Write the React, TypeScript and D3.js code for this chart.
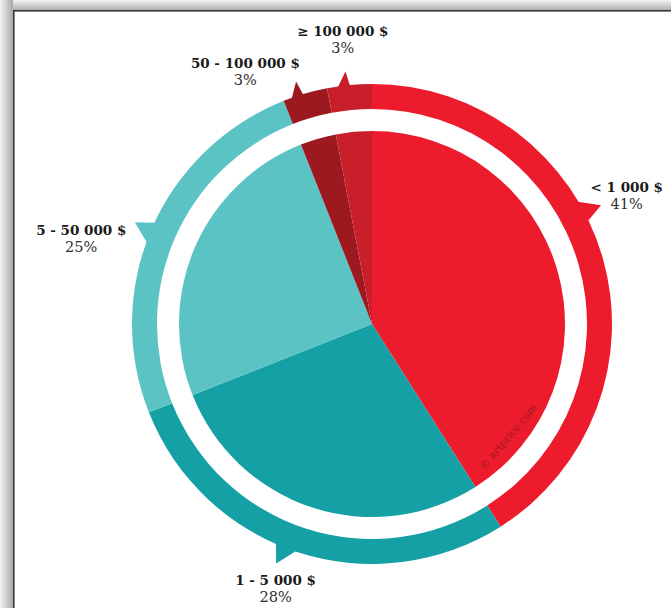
import React from "react";
import * as d3 from "d3";

const categories = ["< 1 000 $", "1 - 5 000 $", "5 - 50 000 $", "50 - 100 000 $", "≥ 100 000 $"];
const shares = [41, 28, 25, 3, 3];
const colors = ["#EC1C2D", "#15A0A6", "#5CC3C5", "#9C1A1F", "#C91F2B"];

// layout: pointer angle shift (deg) and label offset from pointer tip
const pointerShift = [-12, 3, -1, -2, -1.4];
const labelOffset: [number, number][] = [
  [30, -11],
  [-5, 23],
  [-55, 8],
  [-47, -14],
  [1, -35],
];

const W = 671;
const H = 608;
const cx = 372;
const cy = 324;
const rPie = 193;
const rIn = 215;
const rOut = 240;

export default function App() {
  const pie = d3
    .pie<number>()
    .sort(null)
    .value((d) => d)(shares);
  const pieArc = d3.arc<d3.PieArcDatum<number>>().innerRadius(0).outerRadius(rPie);
  const ringArc = d3.arc<d3.PieArcDatum<number>>().innerRadius(rIn).outerRadius(rOut);
  const rad = (deg: number) => (deg * Math.PI) / 180;
  const pt = (a: number, r: number) => [Math.sin(a) * r, -Math.cos(a) * r];

  return (
    <div style={{ position: "absolute", left: 0, top: 0, width: W, height: H }}>
      <svg width={W} height={H} style={{ display: "block" }}>
        <defs>
          <linearGradient id="gTop" x1="0" y1="0" x2="0" y2="1">
            <stop offset="0" stopColor="#f2f2f2" />
            <stop offset="1" stopColor="#a9a9a9" />
          </linearGradient>
          <linearGradient id="gLeft" x1="0" y1="0" x2="1" y2="0">
            <stop offset="0" stopColor="#f2f2f2" />
            <stop offset="1" stopColor="#a9a9a9" />
          </linearGradient>
        </defs>
        <rect x={0} y={0} width={W} height={H} fill="#ffffff" />
        <rect x={0} y={0} width={W} height={11} fill="url(#gTop)" />
        <rect x={0} y={0} width={13} height={H} fill="url(#gLeft)" />
        <rect x={13} y={10} width={W - 13} height={1.6} fill="#3a3a3a" />
        <rect x={13} y={10} width={1.6} height={H - 10} fill="#3a3a3a" />

        <g transform={`translate(${cx},${cy})`}>
          {pie.map((d, i) => (
            <path key={"p" + i} d={pieArc(d) || ""} fill={colors[i]} />
          ))}
          {pie.map((d, i) => (
            <path key={"r" + i} d={ringArc(d) || ""} fill={colors[i]} />
          ))}
          {pie.map((d, i) => {
            const mid = (d.startAngle + d.endAngle) / 2 + rad(pointerShift[i]);
            const half = rad(i >= 3 ? 1.6 : 2.8);
            const b1 = pt(mid - half, rOut - 2);
            const b2 = pt(mid + half, rOut - 2);
            const tip = pt(mid + rad(0.8), rOut + (i >= 3 ? 14 : 18));
            return (
              <path
                key={"t" + i}
                d={`M${b1[0]},${b1[1]}L${tip[0]},${tip[1]}L${b2[0]},${b2[1]}Z`}
                fill={colors[i]}
              />
            );
          })}
          <text
            transform={`translate(${511 - cx},${439 - cy}) rotate(-50)`}
            fontFamily="'DejaVu Serif', serif"
            fontSize={10.5}
            fill="#8c161c"
            textAnchor="middle"
            opacity={0.75}
          >
            © artprice.com
          </text>
        </g>

        {pie.map((d, i) => {
          const mid = (d.startAngle + d.endAngle) / 2 + rad(pointerShift[i]);
          const tip = pt(mid, rOut + 15);
          const x = cx + tip[0] + labelOffset[i][0];
          const y = cy + tip[1] + labelOffset[i][1];
          return (
            <g key={"l" + i}>
              <text
                x={x}
                y={y}
                textAnchor="middle"
                fontFamily="'DejaVu Serif', serif"
                fontWeight="bold"
                fontSize={13.5}
                fill="#1a1a1a"
              >
                {categories[i]}
              </text>
              <text
                x={x}
                y={y + 17}
                textAnchor="middle"
                fontFamily="'DejaVu Serif', serif"
                fontSize={14.5}
                fill="#2e2e2e"
              >
                {shares[i]}%
              </text>
            </g>
          );
        })}
      </svg>
    </div>
  );
}
